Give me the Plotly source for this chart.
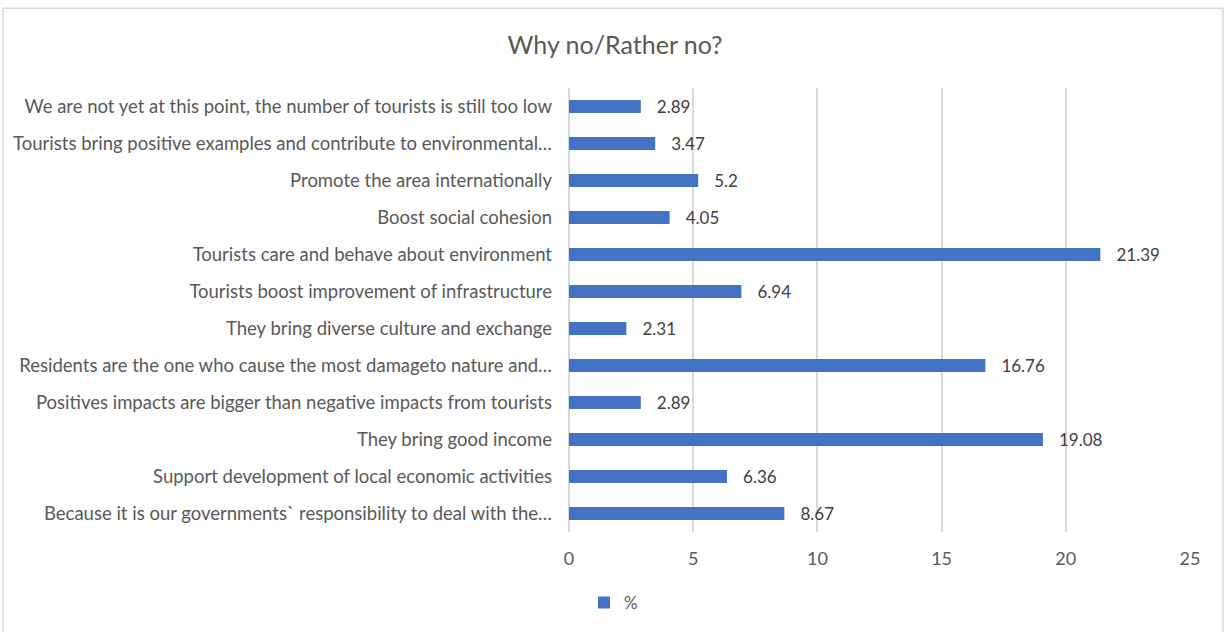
import plotly.graph_objects as go

# Reasons, listed top to bottom as shown on the chart
reasons = [
    "We are not yet at this point, the number of tourists is still too low",
    "Tourists bring positive examples and contribute to environmental…",
    "Promote the area internationally",
    "Boost social cohesion",
    "Tourists care and behave about environment",
    "Tourists boost improvement of infrastructure",
    "They bring diverse culture and exchange",
    "Residents are the one who cause the most damageto nature and…",
    "Positives impacts are bigger than negative impacts from tourists",
    "They bring good income",
    "Support development of local economic activities",
    "Because it is our governments` responsibility to deal with the…",
]
percent = [2.89, 3.47, 5.2, 4.05, 21.39, 6.94, 2.31, 16.76, 2.89, 19.08, 6.36, 8.67]

x_ticks = [0, 5, 10, 15, 20, 25]

FONT = "Lato, Calibri, sans-serif"
GRAY = "#595959"
GRID = "#D9D9D9"
BLUE = "#4472C4"

W, H = 1225, 632
L, R, T, B = 569, 35, 88, 99
pw, ph = W - L - R, H - T - B

fig = go.Figure(
    go.Bar(
        y=reasons,
        x=percent,
        orientation="h",
        name="%",
        marker=dict(color=BLUE, line=dict(width=0)),
        text=percent,
        texttemplate="   %{x}",
        textposition="outside",
        constraintext="none",
        textfont=dict(family=FONT, size=17, color="#404040"),
        cliponaxis=False,
    )
)

fig.update_layout(
    width=W,
    height=H,
    margin=dict(l=L, r=R, t=T, b=B),
    paper_bgcolor="white",
    plot_bgcolor="white",
    bargap=0.65,
    font=dict(family=FONT, size=17, color=GRAY),
    title=dict(
        text="Why no/Rather no?",
        x=615 / W,
        xref="container",
        xanchor="center",
        y=1 - 45 / H,
        yref="container",
        yanchor="middle",
        font=dict(family=FONT, size=25, color=GRAY),
    ),
    showlegend=True,
    legend=dict(
        orientation="h",
        x=(584 - L) / pw,
        xanchor="left",
        y=-(603 - (T + ph)) / ph,
        yanchor="middle",
        font=dict(family=FONT, size=17, color=GRAY),
        itemwidth=30,
    ),
    xaxis=dict(
        range=[0, 25],
        tickvals=x_ticks,
        showgrid=True,
        gridcolor=GRID,
        gridwidth=1.5,
        zeroline=True,
        zerolinecolor=GRID,
        zerolinewidth=1.5,
        showline=False,
        ticks="",
        ticklabelstandoff=14,
        tickfont=dict(family=FONT, size=18, color=GRAY),
        fixedrange=True,
    ),
    yaxis=dict(
        autorange="reversed",
        showgrid=False,
        showline=False,
        ticks="",
        ticklabelstandoff=16,
        tickfont=dict(family=FONT, size=18.5, color=GRAY),
        fixedrange=True,
    ),
    shapes=[
        dict(
            type="rect",
            xref="paper",
            yref="paper",
            x0=(3 - L) / pw,
            x1=(1223 - L) / pw,
            y0=-(645 - (T + ph)) / ph,
            y1=(T + ph - 8) / ph,
            line=dict(color=GRID, width=1.5),
            fillcolor="rgba(0,0,0,0)",
            layer="below",
        )
    ],
)

fig.write_html("out.html")
